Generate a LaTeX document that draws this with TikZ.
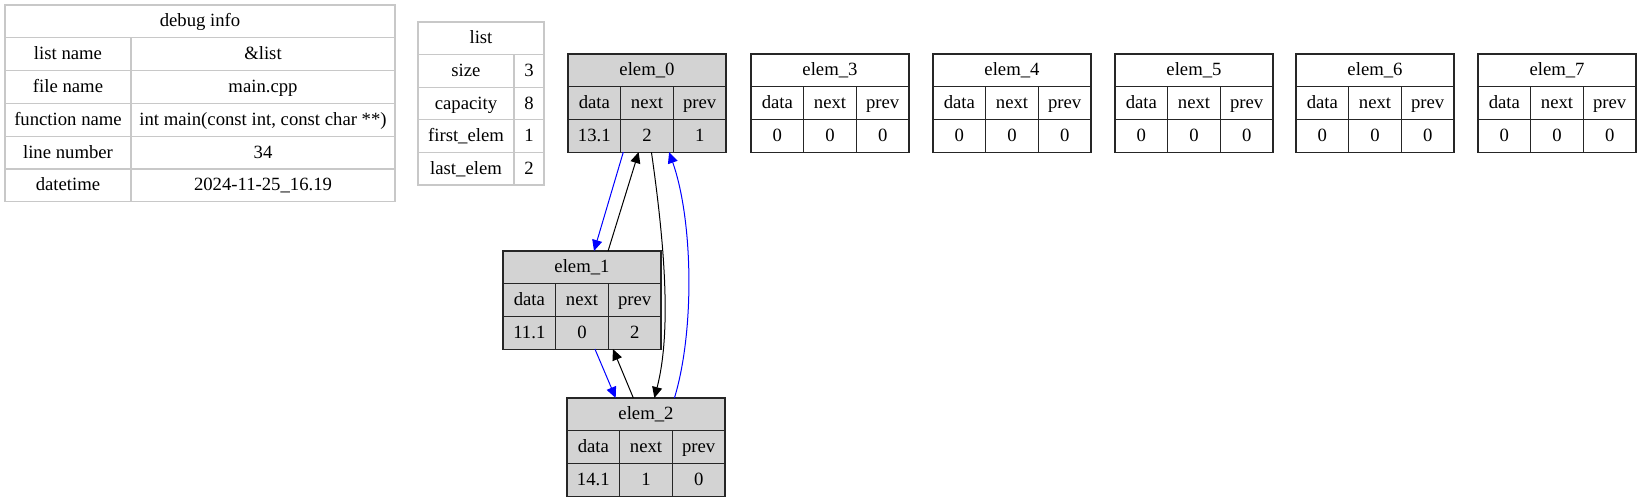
\documentclass[tikz,border=0pt]{standalone}
\usepackage{fontspec}
\setmainfont{Liberation Serif}
\usepackage{tikz}
\usetikzlibrary{arrows.meta, calc}

\definecolor{tablegray}{RGB}{200,200,200}
\definecolor{usedgray}{RGB}{211,211,211}

\tikzset{
	infocell/.style={draw=tablegray, line width=1.2pt, outer sep=0pt, inner sep=0pt,
		anchor=north west, minimum height=32.8pt, text height=14pt, text depth=3pt},
	listcell/.style={infocell, minimum height=32.6pt},
	elembox/.style={draw=black!85, line width=1.1pt, outer sep=0pt, inner sep=0pt,
		anchor=north west, minimum width=158pt, minimum height=98.1pt},
	elemcell/.style={draw=black!85, line width=1.1pt, outer sep=0pt, inner sep=0pt,
		anchor=north west, minimum width=52.67pt, minimum height=32.7pt,
		text height=14pt, text depth=3pt},
	link/.style={-{Triangle[length=11pt,width=10pt]}, line width=1pt},
}

% one row of a two column table
\newcommand{\inforow}[7]{%
	\node at (#2) (#1-k) [#3, minimum width=#4] {#6};
	\node at (#1-k.north east) (#1-v) [#3, minimum width=#5] {#7};
}

% one list element: name, label, x, y, fill, data, next, prev
\newcommand{\listelem}[8]{%
	\node at (#3,#4) (#1) [elembox, fill=#5] {};
	\node at (#1.north west) (#1-name) [elemcell, minimum width=158pt] {#2};
	\node at (#1-name.south west) (#1-h1) [elemcell] {data};
	\node at (#1-h1.north east) (#1-h2) [elemcell] {next};
	\node at (#1-h2.north east) (#1-h3) [elemcell] {prev};
	\node at (#1-h1.south west) (#1-v1) [elemcell] {#6};
	\node at (#1-v1.north east) (#1-v2) [elemcell] {#7};
	\node at (#1-v2.north east) (#1-v3) [elemcell] {#8};
}

\begin{document}
\begin{tikzpicture}[x=1pt, y=-1pt, font=\fontsize{18.7}{22}\selectfont]
	\useasboundingbox (0,0) rectangle (1640,503);

	% debug info table
	\node at (5,5) (dbg) [infocell, minimum width=390pt] {debug info};
	\inforow{dbg1}{dbg.south west}{infocell}{126pt}{264pt}{list name}{\&list}
	\inforow{dbg2}{dbg1-k.south west}{infocell}{126pt}{264pt}{file name}{main.cpp}
	\inforow{dbg3}{dbg2-k.south west}{infocell}{126pt}{264pt}{function name}{int main(const int, const char **)}
	\inforow{dbg4}{dbg3-k.south west}{infocell}{126pt}{264pt}{line number}{34}
	\inforow{dbg5}{dbg4-k.south west}{infocell}{126pt}{264pt}{datetime}{2024-11-25\_16.19}

	% list table
	\node at (418,22) (lst) [listcell, minimum width=126pt] {list};
	\inforow{lst1}{lst.south west}{listcell}{96pt}{30pt}{size}{3}
	\inforow{lst2}{lst1-k.south west}{listcell}{96pt}{30pt}{capacity}{8}
	\inforow{lst3}{lst2-k.south west}{listcell}{96pt}{30pt}{first\_elem}{1}
	\inforow{lst4}{lst3-k.south west}{listcell}{96pt}{30pt}{last\_elem}{2}

	% elements
	\listelem{e0}{elem\_0}{568}{54}{usedgray}{13.1}{2}{1}
	\listelem{e1}{elem\_1}{503}{251}{usedgray}{11.1}{0}{2}
	\listelem{e2}{elem\_2}{567}{398}{usedgray}{14.1}{1}{0}
	\listelem{e3}{elem\_3}{751}{54}{white}{0}{0}{0}
	\listelem{e4}{elem\_4}{933}{54}{white}{0}{0}{0}
	\listelem{e5}{elem\_5}{1115}{54}{white}{0}{0}{0}
	\listelem{e6}{elem\_6}{1296}{54}{white}{0}{0}{0}
	\listelem{e7}{elem\_7}{1478}{54}{white}{0}{0}{0}

	% links
	\draw[link, blue] ($(e0.south west)!0.35!(e0.south east)$) -- ($(e1.north west)!0.576!(e1.north east)$);
	\draw[link] ($(e1.north west)!0.665!(e1.north east)$) -- ($(e0.south west)!0.447!(e0.south east)$);
	\draw[link] ($(e0.south west)!0.528!(e0.south east)$) .. controls (664,240) and (672,330) .. ($(e2.north west)!0.553!(e2.north east)$);
	\draw[link, blue] ($(e2.north west)!0.68!(e2.north east)$) .. controls (695,330) and (693,220) .. ($(e0.south west)!0.64!(e0.south east)$);
	\draw[link, blue] ($(e1.south west)!0.582!(e1.south east)$) -- ($(e2.north west)!0.308!(e2.north east)$);
	\draw[link] ($(e2.north west)!0.42!(e2.north east)$) -- ($(e1.south west)!0.696!(e1.south east)$);
\end{tikzpicture}
\end{document}
